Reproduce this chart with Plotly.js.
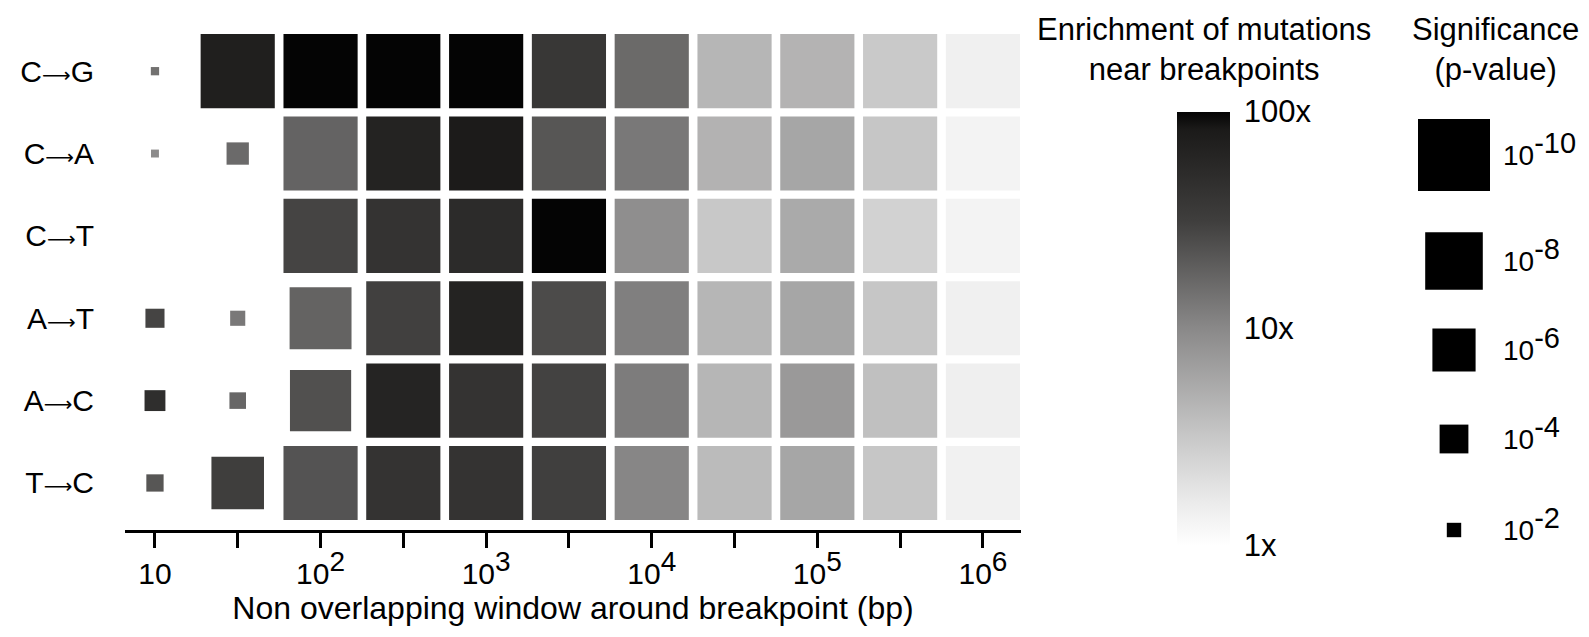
<!DOCTYPE html>
<html>
<head>
<meta charset="utf-8">
<script src="https://cdn.plot.ly/plotly-3.0.1.min.js"></script>
<style>html,body{margin:0;padding:0;background:#fff;}#chart{width:1589px;height:637px;}</style>
</head>
<body>
<div id="chart"></div>
<script>
// ---- data ----
const mutations = ['C→G', 'C→A', 'C→T', 'A→T', 'A→C', 'T→C'];
const windows = [10, 31.6, 100, 316, 1000, 3162, 10000, 31623, 100000, 316228, 1000000];
const windowTickText = ['10', '', '10<sup>2</sup>', '', '10<sup>3</sup>', '', '10<sup>4</sup>', '', '10<sup>5</sup>', '', '10<sup>6</sup>'];

// enrichment of mutations near breakpoints (fold)
const enrichCG = [14.5, 73, 120, 150, 130, 38, 16.2, 4.4, 4.6, 3.1, 1.4];
const enrichCA = [9.6, 16, 17.8, 66, 81, 22, 13, 4.7, 5.9, 3.3, 1.33];
const enrichCT = [null, null, 28.8, 42, 53, 140, 9.1, 3.16, 5.5, 2.6, 1.33];
const enrichAT = [28.8, 13, 18, 30.6, 66, 26, 11.7, 4.4, 5.9, 3.3, 1.42];
const enrichAC = [48, 17, 24, 64, 42, 29.7, 12.2, 4.4, 7.4, 3.65, 1.45];
const enrichTC = [22, 32, 22.8, 42, 42, 31, 10.5, 4.0, 5.9, 3.3, 1.39];

// significance, -log10(p-value)
const sigCG = [1.15, 12, 12, 12, 12, 12, 12, 12, 12, 12, 12];
const sigCA = [1.1, 3.1, 12, 12, 12, 12, 12, 12, 12, 12, 12];
const sigCT = [null, null, 12, 12, 12, 12, 12, 12, 12, 12, 12];
const sigAT = [2.65, 2.1, 8.6, 12, 12, 12, 12, 12, 12, 12, 12];
const sigAC = [2.9, 2.3, 8.5, 12, 12, 12, 12, 12, 12, 12, 12];
const sigTC = [2.4, 7.3, 12, 12, 12, 12, 12, 12, 12, 12, 12];

// legend
const legendSig = [10, 8, 6, 4, 2];
const legendLabels = ['10<sup>-10</sup>', '10<sup>-8</sup>', '10<sup>-6</sup>', '10<sup>-4</sup>', '10<sup>-2</sup>'];
const enrichTickVals = [1, 10, 100];
const enrichTickText = ['1x', '10x', '100x'];

// ---- drawing ----
const FONT = '"Liberation Sans", Arial, Helvetica, sans-serif';
const sizeOf = v => 7.2 * Math.min(v, 10.3);
const bigSup = (s, px) => s.replace(/<sup>(.*?)<\/sup>/g, '<sup><span style="font-size:' + px + 'px">$1</span></sup>');
const arrowLabel = s => s.replace('→', '<span style="font-family:\'DejaVu Sans\';font-size:20px">⟶</span>');
const enrichRows = [enrichCG, enrichCA, enrichCT, enrichAT, enrichAC, enrichTC];
const sigRows = [sigCG, sigCA, sigCT, sigAT, sigAC, sigTC];

const traces = [];
enrichRows.forEach((row, i) => {
  const xs = [], ys = [], cs = [], ss = [];
  row.forEach((v, j) => {
    if (v == null || sigRows[i][j] == null) return;
    xs.push(windows[j]); ys.push(i);
    cs.push(Math.log10(v)); ss.push(sizeOf(sigRows[i][j]));
  });
  traces.push({
    type: 'scatter', mode: 'markers', x: xs, y: ys, xaxis: 'x', yaxis: 'y', cliponaxis: false,
    marker: {symbol: 'square', size: ss, color: cs, coloraxis: 'coloraxis', opacity: 1, line: {width: 0}},
    showlegend: false, hoverinfo: 'skip'
  });
});

// legend squares in a pixel-like auxiliary axis
const legendY = [155, 261, 350, 439, 530];
traces.push({
  type: 'scatter', mode: 'markers', xaxis: 'x2', yaxis: 'y2', cliponaxis: false,
  x: legendSig.map(() => 1454), y: legendY,
  marker: {symbol: 'square', size: legendSig.map(sizeOf), color: '#000', opacity: 1, line: {width: 0}},
  showlegend: false, hoverinfo: 'skip'
});

const L = 125, T = 30, W = 1589 - L, H = 500;
const px = x => (x - L) / W;
const py = y => 1 - (y - T) / H;

const annotations = [
  {xref: 'paper', yref: 'paper', x: px(1204), y: py(10), xanchor: 'center', yanchor: 'top',
   text: 'Enrichment of mutations<br>near breakpoints', showarrow: false, font: {family: FONT, size: 31, color: '#000'}},
  {xref: 'paper', yref: 'paper', x: px(1495), y: py(10), xanchor: 'center', yanchor: 'top',
   text: 'Significance<br>(p-value)', showarrow: false, font: {family: FONT, size: 31, color: '#000'}}
];
legendLabels.forEach((t, k) => {
  annotations.push({xref: 'x2', yref: 'y2', x: 1501, y: legendY[k] - 6, xanchor: 'left', yanchor: 'middle',
    text: bigSup(t, 29), showarrow: false, font: {family: FONT, size: 28, color: '#000'}});
});

const layout = {
  width: 1589, height: 637,
  margin: {l: L, r: 0, t: T, b: 637 - T - H, pad: 0},
  paper_bgcolor: '#fff', plot_bgcolor: 'rgba(0,0,0,0)',
  font: {family: FONT, color: '#000'},
  xaxis: {
    type: 'log', domain: [0, (1021 - L) / W], range: [0.819, 6.23],
    tickvals: windows, ticktext: windowTickText.map(t => bigSup(t, 28)),
    showline: true, linewidth: 3, linecolor: '#000',
    ticks: 'outside', ticklen: 15, tickwidth: 3, tickcolor: '#000',
    showgrid: false, zeroline: false, tickfont: {family: FONT, size: 30},
    title: {text: 'Non overlapping window around breakpoint (bp)', font: {family: FONT, size: 32}, standoff: 8},
    fixedrange: true
  },
  yaxis: {
    range: [5.571, -0.5], tickvals: [0, 1, 2, 3, 4, 5], ticktext: mutations.map(arrowLabel),
    showline: false, ticks: '', showgrid: false, zeroline: false,
    tickfont: {family: FONT, size: 30}, ticklabelstandoff: 30, fixedrange: true
  },
  xaxis2: {domain: [0, 1], range: [L, 1589], visible: false, anchor: 'y2', fixedrange: true},
  yaxis2: {domain: [0, 1], range: [T + H, T], visible: false, anchor: 'x2', fixedrange: true},
  coloraxis: {
    cmin: 0, cmax: 2,
    colorscale: [[0, '#ffffff'], [0.1, '#ebebeb'], [0.25, '#c8c8c8'], [0.5, '#8a8989'], [0.75, '#3f3e3d'], [0.96, '#1b1a19'], [1, '#040404']],
    colorbar: {
      x: px(1177), xanchor: 'left', xpad: 0, ypad: 0,
      y: py(111.5), yanchor: 'top', len: 433.5, lenmode: 'pixels',
      thickness: 53, thicknessmode: 'pixels', outlinewidth: 0,
      tickvals: enrichTickVals.map(Math.log10), ticktext: enrichTickText,
      ticks: 'outside', ticklen: 8, tickcolor: 'rgba(0,0,0,0)',
      tickfont: {family: FONT, size: 31, color: '#000'}
    }
  },
  annotations: annotations
};

Plotly.newPlot('chart', traces, layout, {displayModeBar: false, staticPlot: true});
</script>
</body>
</html>
